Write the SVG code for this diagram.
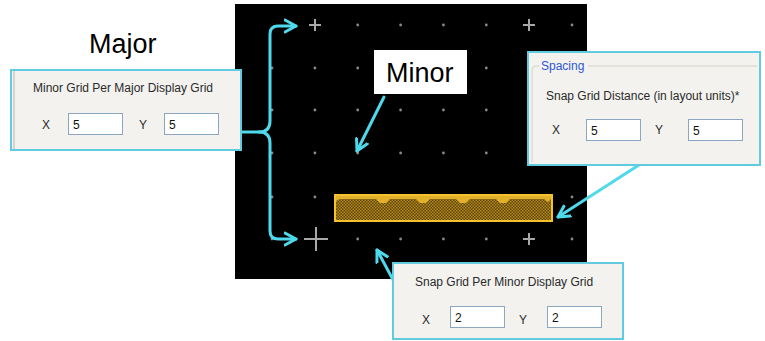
<svg xmlns="http://www.w3.org/2000/svg" width="765" height="341" viewBox="0 0 765 341">
  <style>
    .panel { fill: #f3f2ef; stroke: #62cbe0; stroke-width: 2; }
    .ui { font-family: "Liberation Sans", Arial, sans-serif; font-size: 12px; fill: #2a2a2a; }
    .field { fill: #ffffff; stroke: #8aa6c1; stroke-width: 1; }
    .val { font-family: "Liberation Sans", Arial, sans-serif; font-size: 12px; fill: #111; }
    .big { font-family: "Liberation Sans", Arial, sans-serif; font-size: 27px; fill: #000; }
    .conn { fill: none; stroke: #4fd9ec; stroke-width: 3; stroke-linecap: round; stroke-linejoin: round; }
    .dot { fill: #8a8a8a; }
    .cross { stroke: #a8a8a8; stroke-width: 2; }
  </style>
  <defs>
    <marker id="arrow" markerUnits="userSpaceOnUse" markerWidth="16" markerHeight="16" refX="12" refY="7" orient="auto" viewBox="0 0 16 14">
      <path d="M1,1 L12,7 L1,13" fill="none" stroke="#4fd9ec" stroke-width="3" stroke-linecap="round" stroke-linejoin="round"/>
    </marker>
    <pattern id="hatch" width="3" height="3" patternUnits="userSpaceOnUse">
      <rect width="3" height="3" fill="#5a4408"/>
      <rect width="1.5" height="1.5" fill="#b88a1c"/>
      <rect x="1.5" y="1.5" width="1.5" height="1.5" fill="#b88a1c"/>
    </pattern>
  </defs>

  <rect width="765" height="341" fill="#ffffff"/>

  <!-- layout canvas -->
  <g id="canvas">
    <rect x="235" y="4" width="352" height="275" fill="#000000"/>
    <g id="grid-dots">
      <!-- row y=25 -->
      <circle class="dot" cx="357.7" cy="25" r="1.4"/><circle class="dot" cx="400.6" cy="25" r="1.4"/><circle class="dot" cx="443.4" cy="25" r="1.4"/><circle class="dot" cx="486.3" cy="25" r="1.4"/><circle class="dot" cx="572" cy="25" r="1.4"/>
      <!-- row y=68 -->
      <circle class="dot" cx="272" cy="68" r="1.4"/><circle class="dot" cx="314.9" cy="68" r="1.4"/><circle class="dot" cx="357.7" cy="68" r="1.4"/><circle class="dot" cx="400.6" cy="68" r="1.4"/><circle class="dot" cx="443.4" cy="68" r="1.4"/><circle class="dot" cx="486.3" cy="68" r="1.4"/><circle class="dot" cx="529.1" cy="68" r="1.4"/><circle class="dot" cx="572" cy="68" r="1.4"/>
      <!-- row y=110 -->
      <circle class="dot" cx="272" cy="110" r="1.4"/><circle class="dot" cx="314.9" cy="110" r="1.4"/><circle class="dot" cx="357.7" cy="110" r="1.4"/><circle class="dot" cx="400.6" cy="110" r="1.4"/><circle class="dot" cx="443.4" cy="110" r="1.4"/><circle class="dot" cx="486.3" cy="110" r="1.4"/><circle class="dot" cx="529.1" cy="110" r="1.4"/><circle class="dot" cx="572" cy="110" r="1.4"/>
      <!-- row y=153 -->
      <circle class="dot" cx="272" cy="153" r="1.4"/><circle class="dot" cx="314.9" cy="153" r="1.4"/><circle class="dot" cx="357.7" cy="153" r="1.4"/><circle class="dot" cx="400.6" cy="153" r="1.4"/><circle class="dot" cx="443.4" cy="153" r="1.4"/><circle class="dot" cx="486.3" cy="153" r="1.4"/><circle class="dot" cx="529.1" cy="153" r="1.4"/><circle class="dot" cx="572" cy="153" r="1.4"/>
      <!-- row y=197 -->
      <circle class="dot" cx="272" cy="197" r="1.4"/><circle class="dot" cx="314.9" cy="197" r="1.4"/><circle class="dot" cx="572" cy="197" r="1.4"/>
      <!-- row y=239 -->
      <circle class="dot" cx="272" cy="239" r="1.4"/><circle class="dot" cx="357.7" cy="239" r="1.4"/><circle class="dot" cx="400.6" cy="239" r="1.4"/><circle class="dot" cx="443.4" cy="239" r="1.4"/><circle class="dot" cx="486.3" cy="239" r="1.4"/><circle class="dot" cx="572" cy="239" r="1.4"/>
    </g>
    <!-- major grid crosses -->
    <path class="cross" d="M309,25 H321 M315,19 V31 M523,25 H535 M529,19 V31 M523,239 H535 M529,233 V245"/>
    <!-- cursor crosshair -->
    <path class="cross" d="M304,239 H328 M316,227 V251"/>
  </g>

  <!-- placed shape on the canvas -->
  <g id="shape">
    <rect x="335" y="195" width="217" height="26" fill="url(#hatch)" stroke="#f4c22c" stroke-width="2"/>
    <path d="M336,196 H551 V199 L548,202 L544,199 H510 L506,203 L500,203 L496,199 H470 L466,203 L460,203 L456,199 H430 L426,203 L420,203 L416,199 H390 L386,203 L380,203 L376,199 H340 L336,201 Z" fill="#e2b02a"/>
  </g>

  <!-- connectors -->
  <g id="connectors">
    <path class="conn" d="M241,132 H259 Q270,132 270,121 V34 Q270,26 278,26 H296" marker-end="url(#arrow)"/>
    <path class="conn" d="M259,132 Q270,132 270,143 V231 Q270,239 278,239 H296" marker-end="url(#arrow)"/>
    <path class="conn" d="M384,97 L357,151" marker-end="url(#arrow)"/>
    <path class="conn" d="M642,163 L558,217" marker-end="url(#arrow)"/>
    <path class="conn" d="M398,289 L377,250" marker-end="url(#arrow)"/>
  </g>

  <!-- Major label and dialog -->
  <g id="major">
    <text class="big" x="89" y="53">Major</text>
    <rect class="panel" x="11" y="70" width="230" height="80"/>
    <line x1="14" y1="71" x2="14" y2="149" stroke="#d6d4cd" stroke-width="2"/>
    <text class="ui" x="33" y="92">Minor Grid Per Major Display Grid</text>
    <text class="ui" x="42" y="129">X</text>
    <rect class="field" x="68.5" y="113.5" width="54" height="21"/>
    <text class="val" x="73" y="129">5</text>
    <text class="ui" x="139" y="129">Y</text>
    <rect class="field" x="164.5" y="113.5" width="54" height="21"/>
    <text class="val" x="169" y="129">5</text>
  </g>

  <!-- Minor label -->
  <g id="minor">
    <rect x="374" y="50" width="93" height="44" fill="#ffffff"/>
    <text class="big" x="386" y="82">Minor</text>
  </g>

  <!-- Spacing dialog -->
  <g id="spacing">
    <rect class="panel" x="528" y="52" width="232" height="113"/>
    <path d="M532,162 V70 Q532,66 536,66 H539 M588,66 H757" fill="none" stroke="#d3d2c6" stroke-width="1"/>
    <text class="ui" x="541" y="70" style="fill:#2f57d8">Spacing</text>
    <text class="ui" x="546" y="100">Snap Grid Distance (in layout units)*</text>
    <text class="ui" x="552" y="134">X</text>
    <rect class="field" x="586.5" y="119.5" width="54" height="21"/>
    <text class="val" x="591" y="135">5</text>
    <text class="ui" x="655" y="134">Y</text>
    <rect class="field" x="688.5" y="119.5" width="54" height="21"/>
    <text class="val" x="693" y="135">5</text>
  </g>

  <!-- Snap grid dialog -->
  <g id="snap">
    <rect class="panel" x="393" y="263" width="230" height="76"/>
    <text class="ui" x="415" y="286">Snap Grid Per Minor Display Grid</text>
    <text class="ui" x="422" y="324">X</text>
    <rect class="field" x="450.5" y="306.5" width="54" height="21"/>
    <text class="val" x="455" y="322">2</text>
    <text class="ui" x="519" y="324">Y</text>
    <rect class="field" x="547.5" y="306.5" width="54" height="21"/>
    <text class="val" x="552" y="322">2</text>
  </g>
</svg>
